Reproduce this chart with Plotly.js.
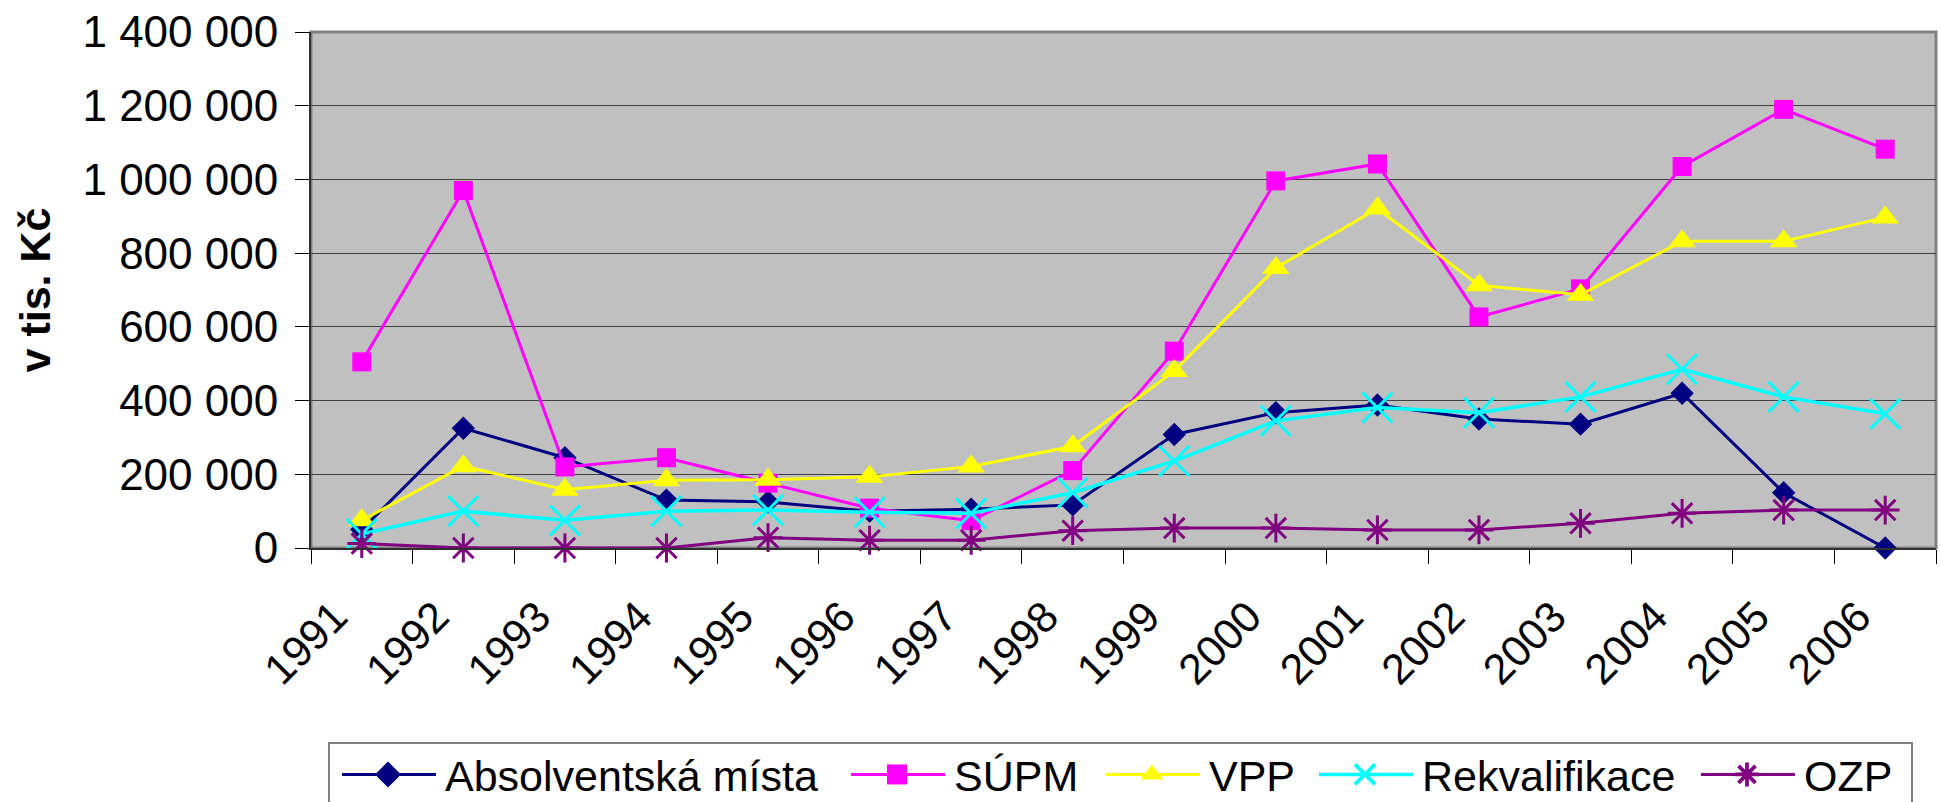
<!DOCTYPE html>
<html><head><meta charset="utf-8">
<script src="https://cdn.plot.ly/plotly-3.0.1.min.js"></script>
<style>html,body{margin:0;padding:0;background:#fff;overflow:hidden}#chart{width:1941px;height:802px}</style>
</head><body><div id="chart"></div>
<script>
const years = ['1991','1992','1993','1994','1995','1996','1997','1998','1999','2000','2001','2002','2003','2004','2005','2006'];
const absolventskaMista = [50000, 325000, 245000, 130000, 125000, 100000, 105000, 117000, 308000, 367000, 388000, 350000, 336000, 420000, 150000, 0];
const supm = [505000, 970000, 220000, 245000, 176000, 108000, 74000, 210000, 534000, 996000, 1042000, 627000, 703000, 1035000, 1190000, 1082000];
const vpp = [75000, 222000, 158000, 184000, 185000, 193000, 221000, 276000, 480000, 760000, 921000, 713000, 687000, 832000, 832000, 897000];
const rekvalifikace = [38000, 100000, 75000, 100000, 103000, 97000, 94000, 150000, 236000, 345000, 381000, 367000, 410000, 485000, 410000, 364000];
const ozp = [12000, 0, 0, 0, 28000, 21000, 21000, 47000, 54000, 54000, 49000, 49000, 67000, 94000, 103000, 103000];
const seriesNames = ['Absolventská místa', 'SÚPM', 'VPP', 'Rekvalifikace', 'OZP'];
const yTitle = 'v tis. Kč';

const FONT = 'Liberation Sans, Arial, sans-serif';
const W = 1941, H = 802;
const mL = 311, mR = 5, mT = 32, mB = 254;
const plotW = W - mL - mR, plotH = H - mT - mB;
const px2x = function (p) { return (p - mL) / plotW; };
const px2y = function (p) { return (mT + plotH - p) / plotH; };

function tr(name, y, color, symbol, size, lw, lineOnly, legendwidth) {
  const m = {symbol: symbol, size: size, color: color};
  m.line = lineOnly ? {color: color, width: 3} : {width: 0};
  return {x: years, y: y, name: name, type: 'scatter', mode: 'lines+markers',
    line: {color: color, width: lw}, marker: m, legendwidth: legendwidth, cliponaxis: false};
}

const data = [
  tr(seriesNames[0], absolventskaMista, '#000080', 'diamond', 18, 3, false, 390),
  tr(seriesNames[1], supm, '#FF00FF', 'square', 19, 3, false, 136),
  tr(seriesNames[2], vpp, '#FFFF00', 'triangle-up', 24, 3, false, 94),
  tr(seriesNames[3], rekvalifikace, '#00FFFF', 'x-thin', 30, 3.5, true, 263),
  tr(seriesNames[4], ozp, '#800080', 'asterisk', 24, 3, true, 95)
];

const layout = {
  width: W, height: H,
  margin: {l: mL, r: mR, t: mT, b: mB, autoexpand: false},
  paper_bgcolor: '#FFFFFF', plot_bgcolor: '#C0C0C0',
  font: {family: FONT, color: '#000'},
  separators: ', ',
  showlegend: true,
  xaxis: {
    type: 'category', range: [-0.5, 15.5], tickson: 'boundaries',
    ticks: 'outside', ticklen: 14, tickwidth: 1, tickcolor: '#000',
    showgrid: false, showline: true, linecolor: '#303030', linewidth: 2,
    tickangle: -45, tickfont: {size: 43, family: FONT, color: '#000'},
    ticklabelstandoff: 24, ticklabelshift: -27, zeroline: false, fixedrange: true
  },
  yaxis: {
    range: [0, 1400000], dtick: 200000, tick0: 0, tickformat: ',d',
    ticks: 'outside', ticklen: 14, tickwidth: 1, tickcolor: '#000',
    showgrid: true, gridcolor: '#404040', gridwidth: 1,
    showline: true, linecolor: '#303030', linewidth: 2, zeroline: false,
    tickfont: {size: 44, family: FONT, color: '#000'}, ticklabelstandoff: 8,
    title: {text: yTitle, font: {size: 43, family: FONT, color: '#000', weight: 'bold'}, standoff: 18},
    fixedrange: true
  },
  shapes: [
    {type: 'rect', xref: 'paper', yref: 'paper', x0: 0, x1: 1, y0: 0, y1: 1,
      line: {color: '#808080', width: 3}, layer: 'between'},
    {type: 'rect', xref: 'paper', yref: 'paper', x0: px2x(329), x1: px2x(1912), y0: px2y(743), y1: px2y(830),
      line: {color: '#808080', width: 2}, fillcolor: 'rgba(0,0,0,0)', layer: 'above'}
  ],
  legend: {
    orientation: 'h', x: px2x(329), xanchor: 'left',
    y: px2y(738), yanchor: 'top',
    bgcolor: 'rgba(0,0,0,0)', bordercolor: 'rgba(0,0,0,0)', borderwidth: 2,
    font: {size: 43, family: FONT, color: '#000'}, itemwidth: 104,
    traceorder: 'normal'
  }
};

Plotly.newPlot('chart', data, layout, {displayModeBar: false, staticPlot: true}).then(function () {
  document.querySelectorAll('.legend .legendlines path').forEach(function (p) { p.setAttribute('d', 'M11,0h94'); });
  document.querySelectorAll('.legend .legendsymbols path').forEach(function (p) { p.setAttribute('transform', 'translate(57,0) scale(1.25)'); });
});
</script>
</body></html>
